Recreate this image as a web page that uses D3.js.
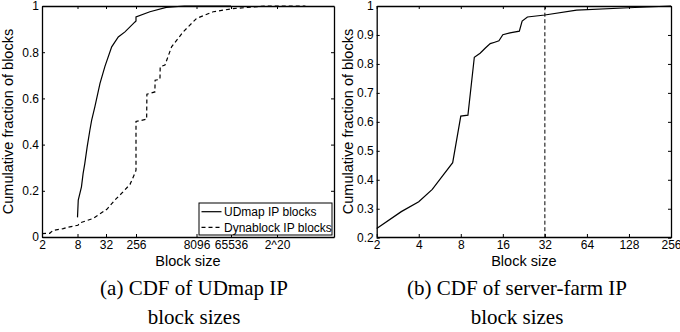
<!DOCTYPE html>
<meta charset="utf-8">
<style>
  body { margin: 0; background: #fff; }
  text { font-family: "Liberation Sans", Arial, sans-serif; fill: #000; }
  .caption { font-family: "Liberation Serif", "Times New Roman", serif; }
</style>
<svg width="680" height="332"></svg>
<script src="https://d3js.org/d3.v7.min.js"></script>
<script>

// ---- data ----
// (a) block size vs cumulative fraction
var udmapSize = [8, 8.3, 9.7, 10.5, 11.4, 12.8, 14.6, 15.9, 18.6, 23.9, 30.5, 47.5, 75, 119, 239, 256, 256, 568, 1448, 4096, 65536];
var udmapCdf  = [0.085, 0.16, 0.217, 0.274, 0.318, 0.39, 0.462, 0.505, 0.563, 0.665, 0.74, 0.823, 0.866, 0.888, 0.931, 0.935, 0.953, 0.975, 0.994, 1, 1];

var dynaSize = [2, 2.7, 3.1, 4.6, 5.2, 8.2, 8.9, 17, 34, 64, 104, 169, 212, 251, 256, 256, 471, 478, 755, 765, 1010, 1024, 1342, 1964, 3822, 8192, 22400, 75300, 561000, 5900000];
var dynaCdf  = [0.015, 0.016, 0.029, 0.036, 0.041, 0.051, 0.061, 0.08, 0.12, 0.165, 0.195, 0.228, 0.26, 0.285, 0.29, 0.5, 0.51, 0.618, 0.628, 0.679, 0.682, 0.737, 0.744, 0.823, 0.888, 0.946, 0.975, 0.989, 1, 1];

var leftTicks  = [2, 8, 32, 256, 8192, 65536, 1048576];
var leftLabels = ["2", "8", "32", "256", "8096", "65536", "2^20"];
var leftYTicks = [0, 0.2, 0.4, 0.6, 0.8, 1];
var leftYLabels = ["0", "0.2", "0.4", "0.6", "0.8", "1"];
var legendNames = ["UDmap IP blocks", "Dynablock IP blocks"];

// (b) server-farm block sizes
var farmSize = [2, 3, 4, 5, 6, 7, 8, 9, 10, 11, 12, 13, 14, 15, 16, 18, 21, 22, 24, 32, 54, 128, 256];
var farmCdf  = [0.232, 0.29, 0.324, 0.367, 0.417, 0.459, 0.62, 0.623, 0.823, 0.837, 0.855, 0.87, 0.875, 0.88, 0.901, 0.907, 0.913, 0.948, 0.962, 0.969, 0.986, 0.994, 1];
var farmMarker = 32;

var rightTicks  = [2, 4, 8, 16, 32, 64, 128, 256];
var rightLabels = ["2", "4", "8", "16", "32", "64", "128", "256"];
var rightYTicks = [0.2, 0.3, 0.4, 0.5, 0.6, 0.7, 0.8, 0.9, 1];
var rightYLabels = ["0.2", "0.3", "0.4", "0.5", "0.6", "0.7", "0.8", "0.9", "1"];

var captionA = ["(a) CDF of UDmap IP", "block sizes"];
var captionB = ["(b) CDF of server-farm IP", "block sizes"];

// ---- layout ----
var svg = d3.select("svg");
var plotTop = 6, plotBottom = 237;

function zip(xs, ys) { return xs.map(function(x, i) { return [x, ys[i]]; }); }

// x scales work on log2(block size)
function panel(left, right, labelX, x, y, xTicks, xLabels, yTicks, yLabels) {
  var g = svg.append("g").attr("transform", "translate(" + left + "," + plotTop + ")");
  var w = right - left, h = plotBottom - plotTop;
  var xt = xTicks.map(Math.log2);

  var ax = function(axis, tx, ty) {
    var a = g.append("g").attr("transform", "translate(" + tx + "," + ty + ")").call(axis);
    a.selectAll("path").attr("stroke", "#000").attr("stroke-width", 1.3);
    a.selectAll("line").attr("stroke", "#000");
    a.selectAll("text").attr("font-size", 12).attr("font-family", "Liberation Sans, Arial, sans-serif").attr("fill", "#000");
    return a;
  };

  ax(d3.axisBottom(x).tickValues(xt).tickSizeInner(-3).tickSizeOuter(0).tickPadding(3)
       .tickFormat(function(d, i) { return xLabels[i]; }), 0, h);
  ax(d3.axisTop(x).tickValues(xt).tickSizeInner(-3).tickSizeOuter(0).tickFormat(""), 0, 0);
  ax(d3.axisLeft(y).tickValues(yTicks).tickSizeInner(-3).tickSizeOuter(0).tickPadding(3)
       .tickFormat(function(d, i) { return yLabels[i]; }), 0, 0);
  ax(d3.axisRight(y).tickValues(yTicks).tickSizeInner(-3).tickSizeOuter(0).tickFormat(""), w, 0);

  g.append("text")
    .attr("x", w / 2).attr("y", 266 - plotTop)
    .attr("text-anchor", "middle").attr("font-size", 14.5)
    .text("Block size");

  svg.append("text")
    .attr("transform", "translate(" + labelX + "," + (plotTop + h / 2) + ") rotate(-90)")
    .attr("text-anchor", "middle").attr("font-size", 14.5)
    .text("Cumulative fraction of blocks");

  return g;
}

function caption(cx, lines) {
  lines.forEach(function(t, i) {
    svg.append("text").attr("class", "caption")
      .attr("x", cx).attr("y", 295 + i * 28.5)
      .attr("text-anchor", "middle").attr("font-size", 21)
      .text(t);
  });
}

// left panel: the x axis is spaced unevenly between its tick marks
var xA = d3.scaleLinear()
    .domain([1, 3, 5, 8, 13, 16, 20, 25])
    .range([0, 35.5, 64, 94, 154.5, 189, 235, 292]);
var yA = d3.scaleLinear().domain([0, 1]).range([plotBottom - plotTop, 0]);

var gA = panel(42, 334, 13, xA, yA, leftTicks, leftLabels, leftYTicks, leftYLabels);

var lineA = d3.line().x(function(d) { return xA(Math.log2(d[0])); }).y(function(d) { return yA(d[1]); });

gA.append("path").datum(zip(udmapSize, udmapCdf))
  .attr("d", lineA).attr("fill", "none").attr("stroke", "#000").attr("stroke-width", 1.2);
gA.append("path").datum(zip(dynaSize, dynaCdf))
  .attr("d", lineA).attr("fill", "none").attr("stroke", "#000").attr("stroke-width", 1.2)
  .attr("stroke-dasharray", "4,3");

// legend
var lg = gA.append("g").attr("transform", "translate(157,197)");
lg.append("rect").attr("width", 133).attr("height", 32)
  .attr("fill", "#fff").attr("stroke", "#000").attr("stroke-width", 1);
legendNames.forEach(function(name, i) {
  var yy = 8.7 + i * 15.6;
  lg.append("line").attr("x1", 2.5).attr("x2", 22.5).attr("y1", yy).attr("y2", yy)
    .attr("stroke", "#000").attr("stroke-width", 1.2)
    .attr("stroke-dasharray", i ? "4,3" : null);
  lg.append("text").attr("x", 25).attr("y", yy).attr("dy", "0.35em")
    .attr("font-size", 12).text(name);
});

// right panel
var xB = d3.scaleLinear().domain([1, 8]).range([0, 294.3]);
var yB = d3.scaleLinear().domain([0.2, 1]).range([plotBottom - plotTop + 0.7, 0]);

var gB = panel(376.7, 671, 352.5, xB, yB, rightTicks, rightLabels, rightYTicks, rightYLabels);

var lineB = d3.line().x(function(d) { return xB(Math.log2(d[0])); }).y(function(d) { return yB(d[1]); });

gB.append("line")
  .attr("x1", xB(Math.log2(farmMarker))).attr("x2", xB(Math.log2(farmMarker)))
  .attr("y1", yB(0.2)).attr("y2", yB(1))
  .attr("stroke", "#000").attr("stroke-width", 1).attr("stroke-dasharray", "4,2.5");

gB.append("path").datum(zip(farmSize, farmCdf))
  .attr("d", lineB).attr("fill", "none").attr("stroke", "#000").attr("stroke-width", 1.2);

caption(194, captionA);
caption(517, captionB);

</script>
